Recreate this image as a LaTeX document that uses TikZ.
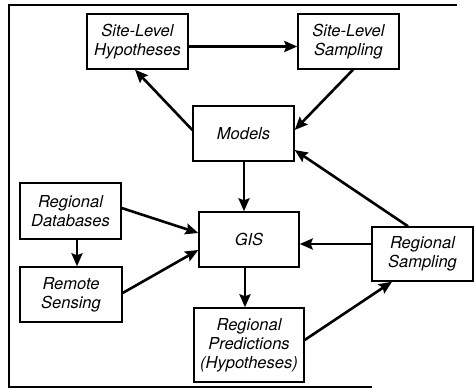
\documentclass[tikz,border=0pt]{standalone}
\usepackage{fontspec}
\setmainfont{TeX Gyre Heros}
\usetikzlibrary{arrows.meta}
\begin{document}
\begin{tikzpicture}[x=1pt,y=-1pt,
  box/.style={draw, line width=1.4pt, rectangle, inner sep=0pt, align=center,
    font=\fontsize{16.5}{19}\selectfont\itshape},
  flow/.style={line width=2.6pt, -{Stealth[length=13pt,width=11pt,inset=2pt]}}]
\useasboundingbox (0,0) rectangle (475,389);
% partial frame
\draw[line width=1.2pt] (457,5) -- (9,5) -- (9,387) -- (372,387);

% boxes
\node[box, minimum width=101pt, minimum height=55pt] (slh) at (137.5,41.5) {Site-Level\\Hypotheses};
\node[box, minimum width=101pt, minimum height=55pt] (sls) at (348.5,41.5) {Site-Level\\Sampling};
\node[box, minimum width=101pt, minimum height=55pt] (models) at (243.5,133.5) {Models};
\node[box, minimum width=101pt, minimum height=56pt] (rdb) at (70.5,211) {Regional\\Databases};
\node[box, minimum width=102pt, minimum height=55pt] (rsens) at (71,294.5) {Remote\\Sensing};
\node[box, minimum width=100pt, minimum height=55pt] (gis) at (249,239.5) {GIS};
\node[box, minimum width=110pt, minimum height=74pt] (rpred) at (249,345) {Regional\\Predictions\\(Hypotheses)};
\node[box, minimum width=101pt, minimum height=54pt] (rsamp) at (422.5,254) {Regional\\Sampling};

% connectors
\draw[flow] ([yshift=-5pt]slh.east) -- ([yshift=-5pt]slh.east -| sls.west);
\draw[flow] ([xshift=4.5pt]sls.south) -- ([yshift=3.5pt]models.east);
\draw[flow] ([yshift=3.5pt]models.west) -- ([xshift=-2.5pt]slh.south);
\draw[flow] ([xshift=0.5pt]models.south) -- ([xshift=0.5pt]models.south |- gis.north);
\draw[flow] ([xshift=-14.5pt]rsamp.north) -- ([yshift=-16.5pt]models.east);
\draw[flow] ([yshift=10pt]rsamp.west) -- ([yshift=10pt]rsamp.west -| gis.east);
\draw[flow] ([xshift=-4pt]gis.south) -- ([xshift=-4pt]gis.south |- rpred.north);
\draw[flow] ([yshift=5pt]rpred.east) -- ([xshift=-30.5pt]rsamp.south);
\draw[flow] ([yshift=3pt]rdb.east) -- ([yshift=6.5pt]gis.west);
\draw[flow] ([yshift=1.5pt]rsens.east) -- ([yshift=-10.5pt]gis.west);
\draw[flow] ([xshift=6.5pt]rdb.south) -- ([xshift=6.5pt]rdb.south |- rsens.north);
\end{tikzpicture}
\end{document}
